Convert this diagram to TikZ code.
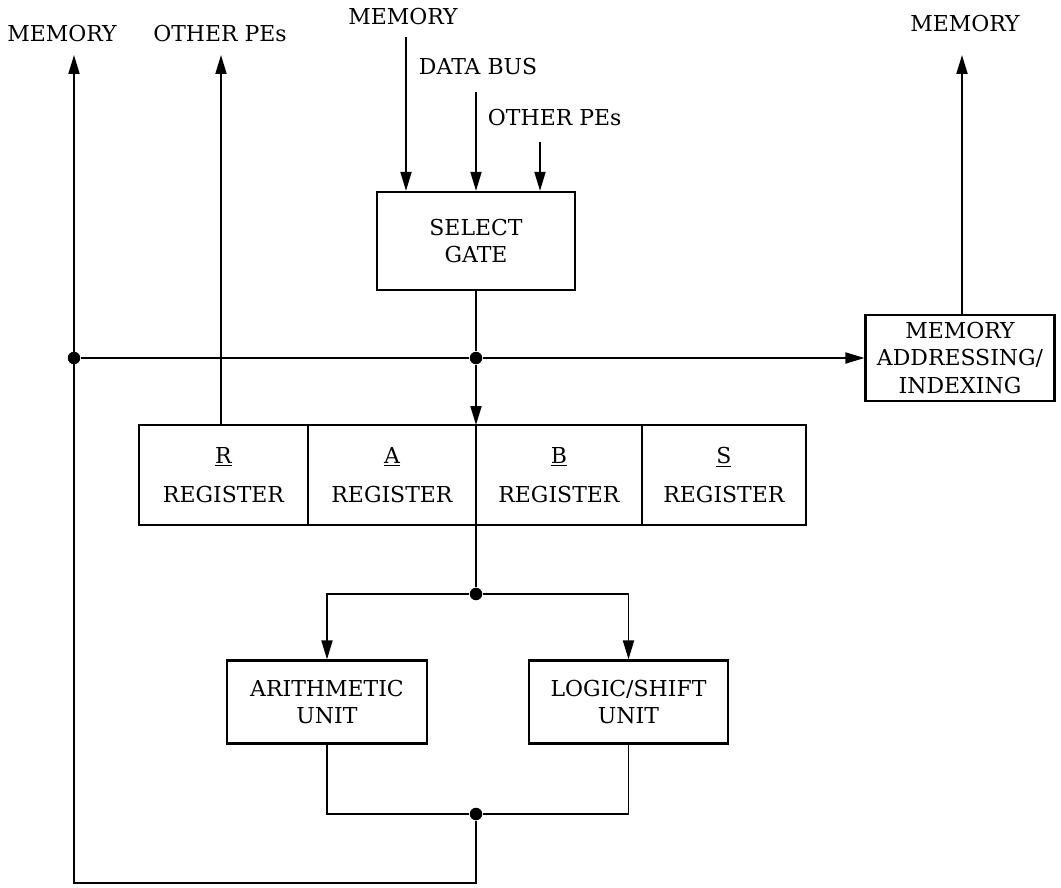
\documentclass[tikz,border=0pt]{standalone}
\usepackage{fontspec}
\setmainfont{DejaVu Serif}
\usetikzlibrary{arrows.meta,positioning,calc}

\begin{document}
\begin{tikzpicture}[
  x=0.02cm, y=-0.02cm,
  >={Triangle[length=0.38cm, width=0.22cm]},
  line width=1.1pt,
  font=\fontsize{12.5}{15.5}\selectfont,
  unit/.style={draw, line width=1.3pt, align=center, inner sep=2pt},
  reg/.style={unit, minimum height=2.0cm, outer sep=0pt},
  lbl/.style={inner sep=0pt},
  dot/.style={circle, fill, inner sep=0pt, minimum size=0.25cm},
  arr/.style={->}]
  \useasboundingbox (0,0) rectangle (1061,888);
  \node[unit, minimum width=3.96cm, minimum height=1.96cm] (sel) at (476,241) {SELECT\\GATE};
  \node[reg, minimum width=3.38cm] (regR) at (223.5,475) {\underline{R}\\[7pt]REGISTER};
  \node[reg, minimum width=3.36cm, right=0pt of regR] (regA) {\underline{A}\\[7pt]REGISTER};
  \node[reg, minimum width=3.32cm, right=0pt of regA] (regB) {\underline{B}\\[7pt]REGISTER};
  \node[reg, minimum width=3.28cm, right=0pt of regB] (regS) {\underline{S}\\[7pt]REGISTER};
  \node[unit, minimum width=3.78cm, minimum height=1.72cm] (addr) at (960,358) {MEMORY\\ADDRESSING/\\INDEXING};
  \node[unit, minimum width=4cm, minimum height=1.66cm] (arith) at (327,702) {ARITHMETIC\\UNIT};
  \node[unit, minimum width=3.98cm, minimum height=1.66cm] (logic) at (628.5,702) {LOGIC/SHIFT\\UNIT};
  % junctions
  \node[dot] (j0) at (74,358) {};
  \node[dot] (j1) at (sel.south |- j0) {};
  \node[dot] (j2) at (476,594) {};
  \node[dot] (j3) at (476,814) {};
  \coordinate (corner) at (74,883);
  % free ends
  \coordinate (tipL) at (74,55);
  \coordinate (tipPE) at (221,55);
  \coordinate (tipR) at (962,55);
  \coordinate (srcM) at (406,37);
  \coordinate (srcD) at (476,92);
  \coordinate (srcO) at (540,142);
  % labels
  \node[lbl] (memL) at (62,34) {MEMORY};
  \node[lbl] (peL) at (220,34) {OTHER PEs};
  \node[lbl] (memT) at (403,17) {MEMORY};
  \node[lbl, anchor=west] (bus) at (418,67) {DATA BUS};
  \node[lbl, anchor=west] (peT) at (487,118) {OTHER PEs};
  \node[lbl] (memR) at (965,24) {MEMORY};
  \draw[arr] (srcM) -- (srcM |- sel.north);
  \draw[arr] (srcD) -- (srcD |- sel.north);
  \draw[arr] (srcO) -- (srcO |- sel.north);
  \draw (sel) -- (j1);
  \draw[arr] (j1) -- (j1 |- regB.north);
  \draw (j0) -- (j1);
  \draw[arr] (j1) -- (addr.west);
  \draw[arr] (regR.north -| tipPE) -- (tipPE);
  \draw[arr] (addr.north -| tipR) -- (tipR);
  \draw (j2 |- regB.south) -- (j2);
  \draw[arr] (j2) -| (arith.north);
  \draw[arr] (j2) -| (logic.north);
  \draw (arith.south) |- (j3);
  \draw (logic.south) |- (j3);
  \draw[arr] (j3) |- (corner) -- (tipL);
\end{tikzpicture}
\end{document}
